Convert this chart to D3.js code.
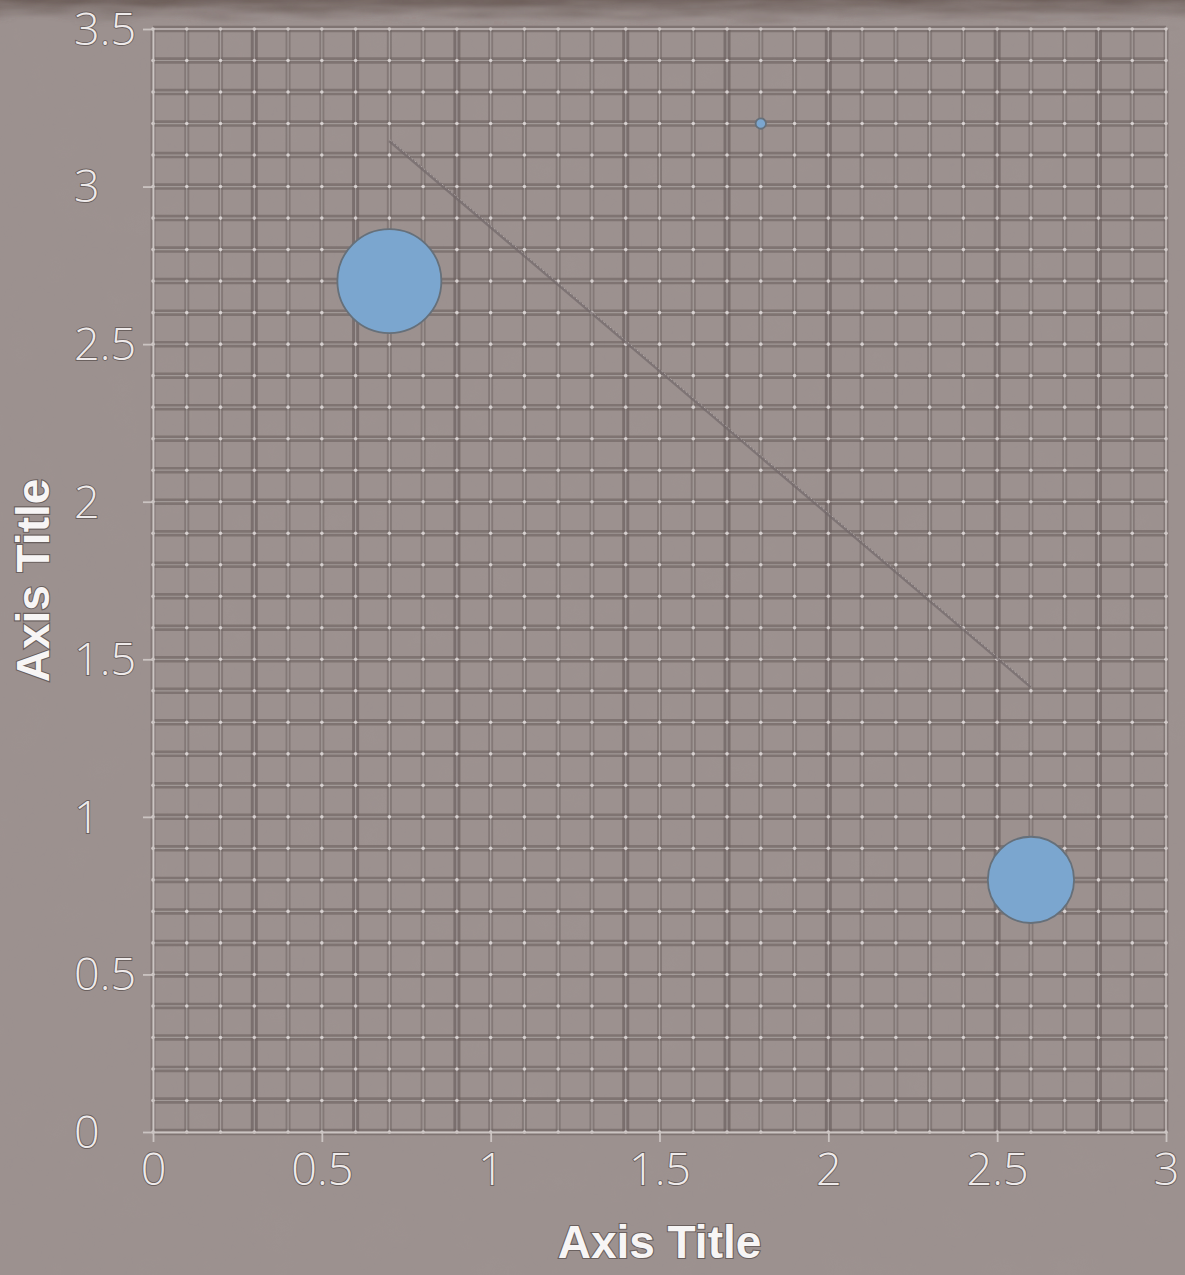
<!DOCTYPE html>
<html>
<head>
<meta charset="utf-8">
<script src="https://cdn.jsdelivr.net/npm/d3@7"></script>
<style>
  html, body { margin: 0; padding: 0; background: #9a8f8d; }
  svg { display: block; }
</style>
</head>
<body>
<div id="chart"></div>
<script>
// data
const xValues = [0.7, 1.8, 2.6];
const yValues = [2.7, 3.2, 0.8];
const bubbleSizes = [4, 0.04, 2.75];
const xTicks = [0, 0.5, 1, 1.5, 2, 2.5, 3];
const yTicks = [0, 0.5, 1, 1.5, 2, 2.5, 3, 3.5];
const xTitle = "Axis Title";
const yTitle = "Axis Title";

const width = 1185, height = 1275;
const margin = { top: 29, right: 19, bottom: 143, left: 153 };

const svg = d3.select("#chart").append("svg")
    .attr("width", width)
    .attr("height", height);

const defs = svg.append("defs");

// paper texture
const tex = defs.append("filter").attr("id", "paper")
    .attr("x", 0).attr("y", 0).attr("width", "100%").attr("height", "100%");
tex.append("feTurbulence").attr("type", "fractalNoise")
    .attr("baseFrequency", 0.02).attr("numOctaves", 4).attr("seed", 7).attr("result", "n");
tex.append("feColorMatrix").attr("type", "matrix")
    .attr("values", "0 0 0 0 0.35  0 0 0 0 0.3  0 0 0 0 0.29  0 0 0 -1.4 0.75");

const torn = defs.append("filter").attr("id", "torn")
    .attr("x", "-5%").attr("y", "-50%").attr("width", "110%").attr("height", "250%");
torn.append("feTurbulence").attr("type", "fractalNoise")
    .attr("baseFrequency", "0.015 0.15").attr("numOctaves", 3).attr("seed", 3).attr("result", "t");
torn.append("feDisplacementMap").attr("in", "SourceGraphic").attr("in2", "t")
    .attr("scale", 18).attr("xChannelSelector", "R").attr("yChannelSelector", "G");
torn.append("feGaussianBlur").attr("stdDeviation", 1.5);

const topGrad = defs.append("linearGradient").attr("id", "topGrad")
    .attr("x1", 0).attr("y1", 0).attr("x2", 0).attr("y2", 1);
topGrad.append("stop").attr("offset", "0%").attr("stop-color", "#5a4a44").attr("stop-opacity", 0.85);
topGrad.append("stop").attr("offset", "60%").attr("stop-color", "#5e4f4a").attr("stop-opacity", 0.35);
topGrad.append("stop").attr("offset", "100%").attr("stop-color", "#5e4f4a").attr("stop-opacity", 0);

svg.append("rect").attr("width", width).attr("height", height).attr("fill", "#9c918f");
svg.append("rect").attr("width", width).attr("height", height)
    .attr("filter", "url(#paper)").attr("opacity", 0.4);
svg.append("rect").attr("x", -10).attr("y", -8).attr("width", width + 20).attr("height", 30)
    .attr("fill", "url(#topGrad)").attr("filter", "url(#torn)");

const x = d3.scaleLinear().domain([0, 3]).range([margin.left, width - margin.right]);
const y = d3.scaleLinear().domain([0, 3.5]).range([height - margin.bottom, margin.top]);
const r = d3.scaleSqrt().domain([0, d3.max(bubbleSizes)]).range([0, 52]);

const minorX = d3.range(0, 31).map(i => i / 10);
const minorY = d3.range(0, 36).map(i => i / 10);
// which vertical lines carry the heavier dark band
const heavyX = new Set([3, 6, 9, 14, 17, 20, 25, 28]);

const grid = svg.append("g").attr("class", "grid");

// dark bands under each grid line
grid.selectAll("line.hband").data(minorY).join("line")
    .attr("class", "hband")
    .attr("x1", x(0)).attr("x2", x(3))
    .attr("y1", d => y(d)).attr("y2", d => y(d))
    .attr("stroke", "#6c615f").attr("stroke-opacity", 0.6).attr("stroke-width", 6.5);
grid.selectAll("line.vband").data(minorX).join("line")
    .attr("class", "vband")
    .attr("y1", y(0)).attr("y2", y(3.5))
    .attr("x1", d => x(d)).attr("x2", d => x(d))
    .attr("stroke", "#6c615f").attr("stroke-opacity", (d, i) => heavyX.has(i) ? 0.7 : 0.5)
    .attr("stroke-width", (d, i) => heavyX.has(i) ? 7 : 5);

// light thin lines
grid.selectAll("line.hl").data(minorY).join("line")
    .attr("class", "hl")
    .attr("x1", x(0)).attr("x2", x(3))
    .attr("y1", d => y(d)).attr("y2", d => y(d))
    .attr("stroke", "#c4bdbb").attr("stroke-opacity", 0.5).attr("stroke-width", 1.2);
grid.selectAll("line.vl").data(minorX).join("line")
    .attr("class", "vl")
    .attr("y1", y(0)).attr("y2", y(3.5))
    .attr("x1", d => x(d)).attr("x2", d => x(d))
    .attr("stroke", "#c4bdbb").attr("stroke-opacity", 0.5).attr("stroke-width", 1.2);

// bright dots at crossings
const crossings = minorX.flatMap(a => minorY.map(b => [a, b]));
grid.selectAll("circle").data(crossings).join("circle")
    .attr("cx", d => x(d[0])).attr("cy", d => y(d[1]))
    .attr("r", 1.8).attr("fill", "#efeaea").attr("fill-opacity", 0.7);

// top and right borders
grid.append("line").attr("x1", x(0)).attr("x2", x(3)).attr("y1", y(3.5)).attr("y2", y(3.5))
    .attr("stroke", "#cdc6c4").attr("stroke-width", 1.5).attr("stroke-opacity", 0.8);
grid.append("line").attr("x1", x(3)).attr("x2", x(3)).attr("y1", y(3.5)).attr("y2", y(0))
    .attr("stroke", "#cdc6c4").attr("stroke-width", 1.5).attr("stroke-opacity", 0.8);

// axes
const axisColor = "#cbc4c2";
const xAxis = svg.append("g")
    .attr("transform", `translate(0,${y(0)})`)
    .call(d3.axisBottom(x).tickValues(xTicks).tickSize(10).tickSizeOuter(0).tickFormat(d3.format("")));
const yAxis = svg.append("g")
    .attr("transform", `translate(${x(0)},0)`)
    .call(d3.axisLeft(y).tickValues(yTicks).tickSize(10).tickSizeOuter(0).tickFormat(d3.format("")));

[xAxis, yAxis].forEach(a => {
    a.select(".domain").attr("stroke", axisColor).attr("stroke-width", 1.8);
    a.selectAll(".tick line").attr("stroke", axisColor).attr("stroke-width", 1.8);
    a.selectAll(".tick text")
        .attr("fill", "#eeeaea")
        .attr("stroke", "#6a605e")
        .attr("stroke-width", 1.8)
        .attr("paint-order", "stroke")
        .style("font-family", "'Open Sans', 'DejaVu Sans', sans-serif")
        .style("font-weight", 300)
        .style("font-size", "45px");
});
xAxis.selectAll(".tick text").attr("y", 21).attr("dy", "0.71em");
yAxis.selectAll(".tick text")
    .attr("text-anchor", "start")
    .attr("x", 74 - x(0))
    .attr("dy", "0.34em");

// linear trendline fitted to the points
const mx = d3.mean(xValues), my = d3.mean(yValues);
const sxy = d3.sum(xValues.map((v, i) => (v - mx) * (yValues[i] - my)));
const sxx = d3.sum(xValues.map(v => (v - mx) * (v - mx)));
const slope = sxy / sxx, intercept = my - slope * mx;
const xMin = d3.min(xValues), xMax = d3.max(xValues);
const trend = [[xMin, intercept + slope * xMin], [xMax, intercept + slope * xMax]];
const lineGen = d3.line().x(d => x(d[0])).y(d => y(d[1]));

svg.append("path").datum(trend).attr("d", lineGen)
    .attr("stroke", "#72686a").attr("stroke-width", 3).attr("fill", "none").attr("stroke-opacity", 0.7);
svg.append("path").datum(trend).attr("d", lineGen)
    .attr("transform", "translate(0.8,-0.8)")
    .attr("stroke", "#cfc8c6").attr("stroke-width", 1).attr("fill", "none").attr("stroke-opacity", 0.6)
    .attr("stroke-dasharray", "2 2");

// bubbles
const points = xValues.map((v, i) => ({ x: v, y: yValues[i], size: bubbleSizes[i] }));
svg.append("g").selectAll("circle").data(points).join("circle")
    .attr("cx", d => x(d.x))
    .attr("cy", d => y(d.y))
    .attr("r", d => r(d.size))
    .attr("fill", "#7ba6cf")
    .attr("stroke", "#66707a")
    .attr("stroke-width", 1.8);

// axis titles
const titleStyle = sel => sel
    .attr("fill", "#f7f5f5")
    .attr("stroke", "#6a605e")
    .attr("stroke-width", 2.2)
    .attr("paint-order", "stroke")
    .attr("text-anchor", "middle")
    .style("font-family", "'Liberation Sans', Arial, sans-serif")
    .style("font-weight", "bold")
    .style("font-size", "46px");

svg.append("text")
    .attr("x", (x(0) + x(3)) / 2)
    .attr("y", 1258)
    .text(xTitle)
    .call(titleStyle);

svg.append("text")
    .attr("transform", `translate(49,${(y(0) + y(3.5)) / 2}) rotate(-90)`)
    .text(yTitle)
    .call(titleStyle);
</script>
</body>
</html>
